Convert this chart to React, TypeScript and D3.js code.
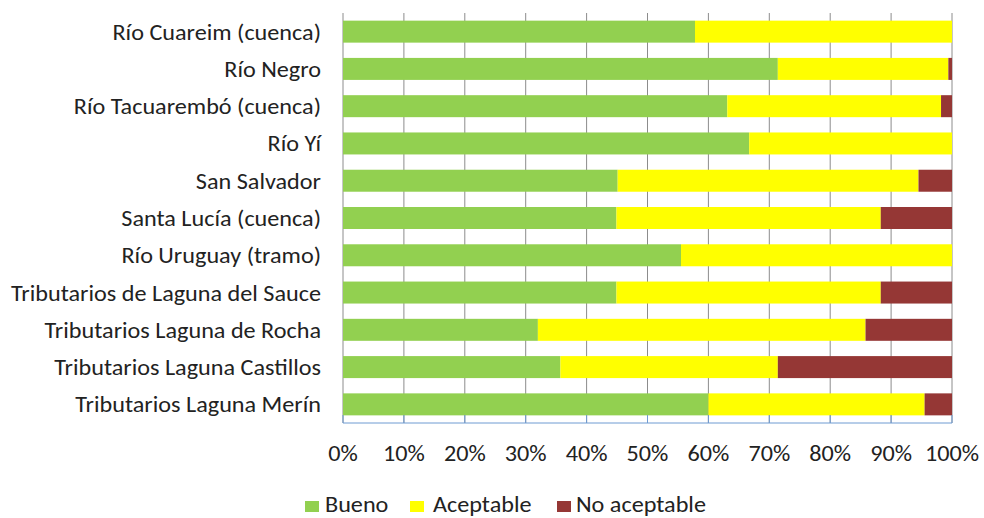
import React from "react";
import * as d3 from "d3";

const categories = [
  "Río Cuareim (cuenca)",
  "Río Negro",
  "Río Tacuarembó (cuenca)",
  "Río Yí",
  "San Salvador",
  "Santa Lucía (cuenca)",
  "Río Uruguay (tramo)",
  "Tributarios de Laguna del Sauce",
  "Tributarios Laguna de Rocha",
  "Tributarios Laguna Castillos",
  "Tributarios Laguna Merín",
];
const bueno = [57.8, 71.4, 63.1, 66.7, 45.1, 44.9, 55.5, 44.9, 32.0, 35.7, 60.0];
const aceptable = [42.2, 28.0, 35.1, 33.3, 49.4, 43.4, 44.5, 43.4, 53.8, 35.7, 35.5];
const noAceptable = [0, 0.6, 1.8, 0, 5.5, 11.7, 0, 11.7, 14.2, 28.6, 4.5];
const seriesNames = ["Bueno", "Aceptable", "No aceptable"];
const seriesColors = ["#92D050", "#FFFF00", "#953735"];
const xTicks = [0, 10, 20, 30, 40, 50, 60, 70, 80, 90, 100];

const W = 984;
const H = 518;
const FONT = "Carlito, Calibri, Lato, 'Liberation Sans', Arial, sans-serif";
const SX = 1.1;
const FS = 22;

function SText(props: {
  x: number;
  y: number;
  anchor?: "start" | "middle" | "end";
  children: React.ReactNode;
}) {
  return (
    <text
      transform={`translate(${props.x},${props.y}) scale(${SX},1)`}
      textAnchor={props.anchor || "start"}
      fontSize={FS}
      fill="#222"
    >
      {props.children}
    </text>
  );
}

export default function App() {
  const left = 343;
  const right = 952;
  const top = 13;
  const bottom = 423;
  const x = d3.scaleLinear().domain([0, 100]).range([left, right]);
  const y = d3
    .scaleBand<string>()
    .domain(categories)
    .range([top, bottom])
    .paddingInner(0.41)
    .paddingOuter(0.205);

  const stackData = categories.map((c, i) => ({
    c,
    s0: bueno[i],
    s1: aceptable[i],
    s2: noAceptable[i],
  }));
  const layers = d3.stack<any>().keys(["s0", "s1", "s2"])(stackData);

  const legendItems = [
    { name: seriesNames[0], color: seriesColors[0], x: 305, tx: 325 },
    { name: seriesNames[1], color: seriesColors[1], x: 410, tx: 433 },
    { name: seriesNames[2], color: seriesColors[2], x: 557, tx: 576 },
  ];

  return (
    <svg
      width={W}
      height={H}
      style={{ position: "absolute", left: 0, top: 0, background: "#fff" }}
      fontFamily={FONT}
    >
      <rect x={0} y={0} width={W} height={H} fill="#fff" />
      {xTicks.map((t) => (
        <line
          key={"g" + t}
          x1={x(t)}
          x2={x(t)}
          y1={top}
          y2={bottom}
          stroke="#8c8c8c"
          strokeWidth={1}
        />
      ))}
      {layers.map((layer, li) =>
        layer.map((d, i) => (
          <rect
            key={li + "-" + i}
            x={x(d[0])}
            y={y(categories[i])}
            width={Math.max(0, x(d[1]) - x(d[0]))}
            height={y.bandwidth()}
            fill={seriesColors[li]}
          />
        ))
      )}
      <line x1={left} x2={right} y1={bottom} y2={bottom} stroke="#6F9BD2" strokeWidth={1} />
      {xTicks.map((t) => (
        <line
          key={"bt" + t}
          x1={x(t)}
          x2={x(t)}
          y1={bottom - 8}
          y2={bottom}
          stroke="#6F9BD2"
          strokeWidth={1}
        />
      ))}
      {categories.map((c) => (
        <SText key={c} x={321} y={(y(c) as number) + y.bandwidth() / 2 + 8} anchor="end">
          {c}
        </SText>
      ))}
      {xTicks.map((t) => (
        <SText key={"tl" + t} x={x(t)} y={461} anchor="middle">
          {t + "%"}
        </SText>
      ))}
      {legendItems.map((l) => (
        <g key={l.name}>
          <rect x={l.x} y={501} width={14} height={11} fill={l.color} />
          <SText x={l.tx} y={512}>
            {l.name}
          </SText>
        </g>
      ))}
    </svg>
  );
}
